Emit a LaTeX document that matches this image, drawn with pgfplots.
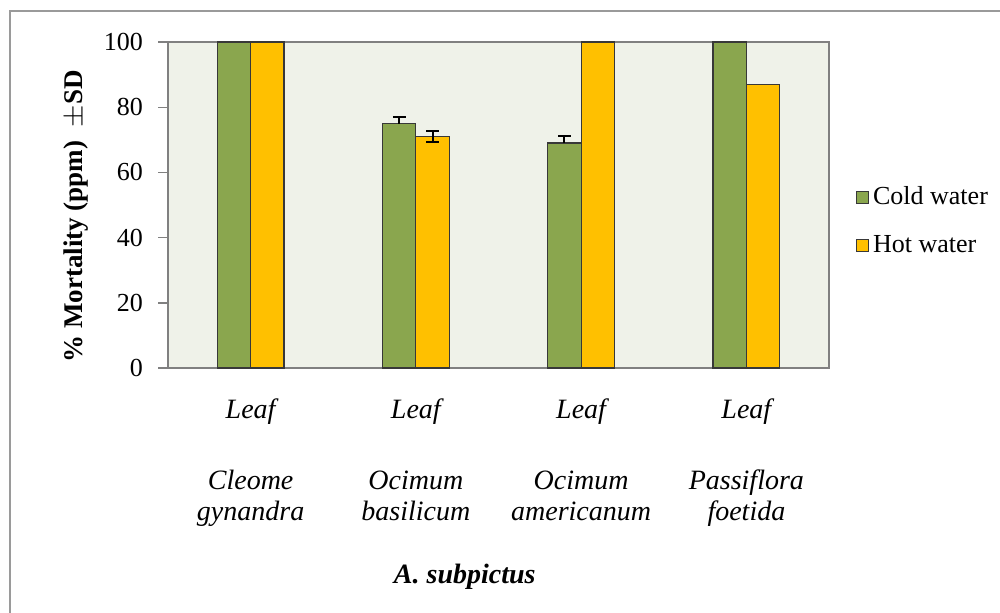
\documentclass[border=0pt]{standalone}
\usepackage{fontspec}
\setmainfont{Liberation Serif}
\usepackage{pgfplots}
\pgfplotsset{compat=1.18}
\definecolor{cold}{HTML}{8AA64E}
\definecolor{hot}{HTML}{FFC000}
\definecolor{bgc}{HTML}{EFF2E9}
\definecolor{axgray}{HTML}{808080}
\definecolor{bardraw}{HTML}{383838}
\begin{document}
\begin{tikzpicture}
\draw[axgray!80, line width=1.2pt] (5pt,-20pt) rectangle (520pt,300.5pt);
\begin{axis}[
  at={(84pt,122pt)}, anchor=south west,
  width=330.5pt, height=163pt, scale only axis,
  ybar=0pt, bar width=16.65pt,
  xmin=-0.5, xmax=3.5, ymin=0, ymax=100,
  xtick=\empty,
  ytick={0,20,40,60,80,100},
  ytick pos=left,
  tick align=outside,
  major tick length=5pt,
  ytick style={draw=axgray, line width=0.7pt},
  axis line style={draw=axgray, line width=0.8pt},
  axis background/.style={fill=bgc},
  /pgf/number format/assume math mode=true,
  yticklabel style={font=\fontsize{13}{15}\selectfont, xshift=-4pt},
  clip=false,
  legend style={at={(1.031,0.45)}, anchor=west, draw=none, fill=none,
    font=\fontsize{13}{15}\selectfont, row sep=10pt},
  legend cell align=left,
  legend image code/.code={\draw[#1, draw=bardraw, line width=0.6pt] (0pt,-3pt) rectangle (6pt,3pt);},
]
\addplot[fill=cold, draw=bardraw, line width=0.6pt, bar shift=-8.325pt]
  coordinates {(0,100) (1,75) (2,69) (3,100)};
\addplot[fill=hot, draw=bardraw, line width=0.6pt, bar shift=8.325pt]
  coordinates {(0,100) (1,71) (2,100) (3,87)};
\addplot[forget plot, draw=none, fill=none, bar shift=-8.325pt,
  error bars/.cd, y dir=plus, y explicit,
  error bar style={black, line width=1pt},
  error mark options={black, line width=1pt, mark size=3.2pt, rotate=90}]
  coordinates {(1,75) +- (0,2.0) (2,69) +- (0,2.3)};
\addplot[forget plot, draw=none, fill=none, bar shift=8.325pt,
  error bars/.cd, y dir=both, y explicit,
  error bar style={black, line width=1pt},
  error mark options={black, line width=1pt, mark size=3.2pt, rotate=90}]
  coordinates {(1,71) +- (0,1.8)};
\legend{Cold water, Hot water}
\tikzset{cat/.style={font=\fontsize{14}{16}\selectfont\itshape, anchor=base, inner sep=0pt}}
\node[cat] at (axis cs:0,0) [yshift=-25pt] {Leaf};
\node[cat] at (axis cs:1,0) [yshift=-25pt] {Leaf};
\node[cat] at (axis cs:2,0) [yshift=-25pt] {Leaf};
\node[cat] at (axis cs:3,0) [yshift=-25pt] {Leaf};
\node[cat] at (axis cs:0,0) [yshift=-60.5pt] {Cleome};
\node[cat] at (axis cs:0,0) [yshift=-76pt] {gynandra};
\node[cat] at (axis cs:1,0) [yshift=-60.5pt] {Ocimum};
\node[cat] at (axis cs:1,0) [yshift=-76pt] {basilicum};
\node[cat] at (axis cs:2,0) [yshift=-60.5pt] {Ocimum};
\node[cat] at (axis cs:2,0) [yshift=-76pt] {americanum};
\node[cat] at (axis cs:3,0) [yshift=-60.5pt] {Passiflora};
\node[cat] at (axis cs:3,0) [yshift=-76pt] {foetida};
\node[font=\fontsize{14}{16}\selectfont\bfseries\itshape, anchor=base, inner sep=0pt] at (rel axis cs:0.449,0) [yshift=-107.5pt] {A. subpictus};
\node[font=\fontsize{13.5}{16}\selectfont\bfseries, rotate=90] at (rel axis cs:-0.139,0.465) {\% Mortality (ppm)\ \ $\pm$SD};
\end{axis}
\pgfresetboundingbox
\useasboundingbox (0,0) rectangle (500pt,306pt);
\end{tikzpicture}
\end{document}
